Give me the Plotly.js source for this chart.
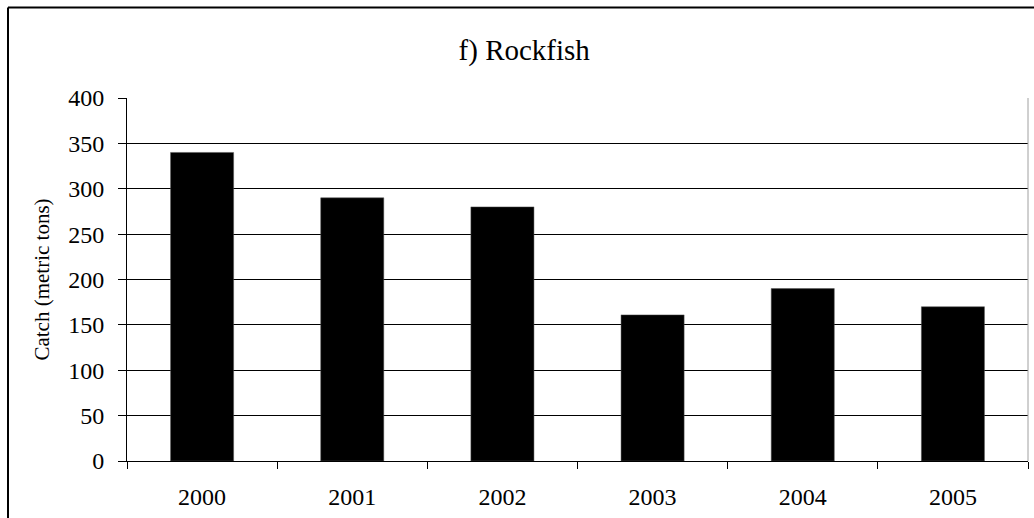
<!DOCTYPE html>
<html>
<head>
<meta charset="utf-8">
<script src="https://cdn.plot.ly/plotly-3.0.1.min.js"></script>
<style>html,body{margin:0;padding:0;background:#fff;}#chart{width:1034px;height:518px;}</style>
</head>
<body>
<div id="chart"></div>
<script>
const years = ["2000", "2001", "2002", "2003", "2004", "2005"];
const catch_tons = [340, 290, 280, 161, 190, 170];
const yTicks = [0, 50, 100, 150, 200, 250, 300, 350, 400];
const chartTitle = "f) Rockfish";
const yTitle = "Catch (metric tons)";

const font = "'Liberation Serif', 'Times New Roman', Times, serif";

const trace = {
  type: "bar",
  x: years,
  y: catch_tons,
  marker: {color: "#000000", line: {color: "#555555", width: 0.5}},
  hoverinfo: "x+y"
};

const layout = {
  width: 1034,
  height: 518,
  margin: {l: 127, r: 6, t: 98, b: 57},
  paper_bgcolor: "#ffffff",
  plot_bgcolor: "#ffffff",
  font: {family: font, color: "#000000", size: 24},
  showlegend: false,
  bargap: 0.58,
  title: {
    text: chartTitle,
    font: {family: font, size: 29, color: "#000000"},
    xref: "container", x: 0.507, xanchor: "center",
    yref: "container", y: 1 - 50 / 518, yanchor: "middle"
  },
  xaxis: {
    type: "category",
    showline: true, linecolor: "#000000", linewidth: 1,
    ticks: "outside", ticklen: 7, tickcolor: "#000000", tickwidth: 1,
    tickson: "boundaries",
    ticklabelstandoff: 14,
    showgrid: false, zeroline: false,
    tickfont: {family: font, size: 24, color: "#000000"},
    fixedrange: true
  },
  yaxis: {
    range: [0, 400],
    tickvals: yTicks,
    ticktext: yTicks.map(String),
    showline: true, linecolor: "#000000", linewidth: 1,
    ticks: "outside", ticklen: 8, tickcolor: "#000000", tickwidth: 1,
    ticklabelstandoff: 9,
    showgrid: true, gridcolor: "#000000", gridwidth: 1,
    zeroline: false,
    tickfont: {family: font, size: 24, color: "#000000"},
    title: {text: yTitle, font: {family: font, size: 21, color: "#000000"}, standoff: 12},
    fixedrange: true
  },
  shapes: [
    {type: "line", xref: "paper", yref: "paper", x0: 1, x1: 1, y0: 0, y1: 1,
     line: {color: "#a0a0a0", width: 1}},
    {type: "line", xref: "paper", yref: "paper",
     x0: (8 - 127) / 901, x1: 1.2, y0: 1 + (98 - 7.5) / 363, y1: 1 + (98 - 7.5) / 363,
     line: {color: "#000000", width: 2}},
    {type: "line", xref: "paper", yref: "paper",
     x0: (8 - 127) / 901, x1: (8 - 127) / 901, y0: 1 + (98 - 7.5) / 363, y1: -0.3,
     line: {color: "#000000", width: 2}}
  ]
};

Plotly.newPlot("chart", [trace], layout, {displayModeBar: false, staticPlot: true});
</script>
</body>
</html>
